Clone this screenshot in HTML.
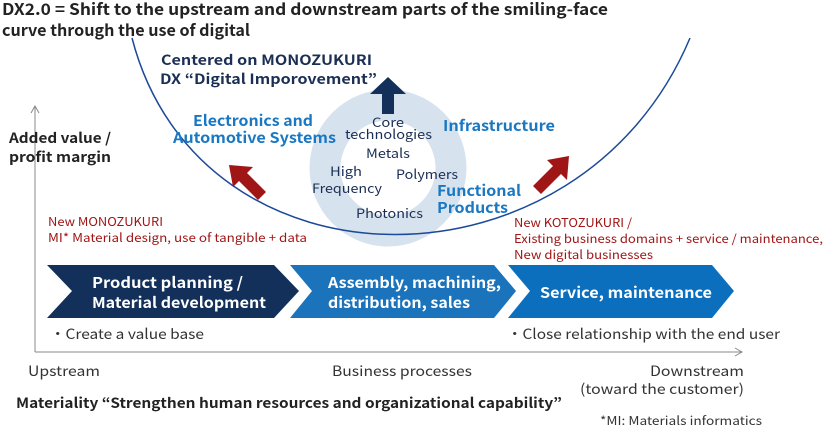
<!DOCTYPE html>
<html><head><meta charset="utf-8"><style>
body{margin:0;background:#fff;}
svg text{font-family:"Noto Sans CJK JP","Liberation Sans",sans-serif;}
</style></head><body>
<svg width="824" height="426" viewBox="0 0 824 426" xmlns="http://www.w3.org/2000/svg">
<g lengthAdjust="spacingAndGlyphs">
<text x="2" y="15" font-size="16" font-weight="bold" fill="#222" textLength="606" lengthAdjust="spacingAndGlyphs">DX2.0 = Shift to the upstream and downstream parts of the smiling-face</text>
<text x="2" y="36" font-size="16" font-weight="bold" fill="#222" textLength="248" lengthAdjust="spacingAndGlyphs">curve through the use of digital</text>
<circle cx="388" cy="168" r="63" fill="none" stroke="#d6e3ee" stroke-width="31"/>
<path d="M132,38 C200,300 580,300 690,38" fill="none" stroke="#1c4a9a" stroke-width="1.5"/>
<text x="161" y="65" font-size="14" font-weight="bold" fill="#1b2f55" textLength="211" lengthAdjust="spacingAndGlyphs">Centered on MONOZUKURI</text>
<text x="160" y="84" font-size="14" font-weight="bold" fill="#1b2f55" textLength="217" lengthAdjust="spacingAndGlyphs">DX “Digital Imporovement”</text>
<polygon points="388,77 406,94 394,94 394,114 382,114 382,94 370,94" fill="#12305a"/>
<text x="193" y="126" font-size="15" font-weight="bold" fill="#1a78c2" textLength="120" lengthAdjust="spacingAndGlyphs">Electronics and</text>
<text x="173" y="143" font-size="15" font-weight="bold" fill="#1a78c2" textLength="163" lengthAdjust="spacingAndGlyphs">Automotive Systems</text>
<text x="443" y="131" font-size="15" font-weight="bold" fill="#1a78c2" textLength="112" lengthAdjust="spacingAndGlyphs">Infrastructure</text>
<text x="437" y="196" font-size="15" font-weight="bold" fill="#1a78c2" textLength="84" lengthAdjust="spacingAndGlyphs">Functional</text>
<text x="437" y="213" font-size="15" font-weight="bold" fill="#1a78c2" textLength="71" lengthAdjust="spacingAndGlyphs">Products</text>
<g font-size="13" fill="#1b2f55">
<text x="372" y="127" textLength="32" lengthAdjust="spacingAndGlyphs">Core</text>
<text x="345" y="139" textLength="87" lengthAdjust="spacingAndGlyphs">technologies</text>
<text x="366" y="158" textLength="44" lengthAdjust="spacingAndGlyphs">Metals</text>
<text x="330" y="176" textLength="32" lengthAdjust="spacingAndGlyphs">High</text>
<text x="312" y="193" textLength="70" lengthAdjust="spacingAndGlyphs">Frequency</text>
<text x="396" y="179" textLength="62" lengthAdjust="spacingAndGlyphs">Polymers</text>
<text x="356" y="218" textLength="67" lengthAdjust="spacingAndGlyphs">Photonics</text>
</g>
<polygon points="229,165 253,167 247,173 266,192 258,200 239,181 233,187" fill="#a01515"/>
<polygon points="569,156 567,180 561,174 541,194 533,186 553,166 547,160" fill="#a01515"/>
<line x1="35" y1="352" x2="35" y2="106" stroke="#888" stroke-width="1"/>
<polyline points="31,113 35,106 39,113" fill="none" stroke="#888"/>
<line x1="35" y1="352" x2="742" y2="352" stroke="#888" stroke-width="1"/>
<polyline points="735,348 742,352 735,356" fill="none" stroke="#888"/>
<text x="9" y="143" font-size="14" font-weight="bold" fill="#222" textLength="102" lengthAdjust="spacingAndGlyphs">Added value /</text>
<text x="9" y="162" font-size="14" font-weight="bold" fill="#222" textLength="102" lengthAdjust="spacingAndGlyphs">profit margin</text>
<g font-size="12" fill="#a01515">
<text x="48" y="226" textLength="115" lengthAdjust="spacingAndGlyphs">New MONOZUKURI</text>
<text x="48" y="242" textLength="259" lengthAdjust="spacingAndGlyphs">MI* Material design, use of tangible + data</text>
<text x="514" y="227" textLength="118" lengthAdjust="spacingAndGlyphs">New KOTOZUKURI /</text>
<text x="514" y="243" textLength="309" lengthAdjust="spacingAndGlyphs">Existing business domains + service / maintenance,</text>
<text x="514" y="259" textLength="139" lengthAdjust="spacingAndGlyphs">New digital businesses</text>
</g>
<polygon points="47,265 274,265 299,291 274,318 47,318 72,291" fill="#12305a"/>
<polygon points="290,265 494,265 516,291 494,318 290,318 312,291" fill="#1a73bb"/>
<polygon points="508,265 712,265 734,291 712,318 508,318 530,291" fill="#0b6fbe"/>
<g font-size="15" font-weight="bold" fill="#fff">
<text x="92" y="288" textLength="151" lengthAdjust="spacingAndGlyphs">Product planning /</text>
<text x="92" y="308" textLength="174" lengthAdjust="spacingAndGlyphs">Material development</text>
<text x="328" y="288" textLength="173" lengthAdjust="spacingAndGlyphs">Assembly, machining,</text>
<text x="328" y="308" textLength="142" lengthAdjust="spacingAndGlyphs">distribution, sales</text>
<text x="540" y="298" textLength="172" lengthAdjust="spacingAndGlyphs">Service, maintenance</text>
</g>
<g font-size="14" fill="#333">
<text x="50" y="339" textLength="154" lengthAdjust="spacingAndGlyphs">・Create a value base</text>
<text x="507" y="339" textLength="273" lengthAdjust="spacingAndGlyphs">・Close relationship with the end user</text>
<text x="28" y="376" textLength="72" lengthAdjust="spacingAndGlyphs">Upstream</text>
<text x="332" y="376" textLength="140" lengthAdjust="spacingAndGlyphs">Business processes</text>
<text x="650" y="376" textLength="94" lengthAdjust="spacingAndGlyphs">Downstream</text>
<text x="580" y="394" textLength="164" lengthAdjust="spacingAndGlyphs">(toward the customer)</text>
</g>
<text x="16" y="408" font-size="14" font-weight="bold" fill="#222" textLength="546" lengthAdjust="spacingAndGlyphs">Materiality “Strengthen human resources and organizational capability”</text>
<text x="600" y="425" font-size="12" fill="#333" textLength="162" lengthAdjust="spacingAndGlyphs">*MI: Materials informatics</text>
</g>
</svg>
</body></html>
